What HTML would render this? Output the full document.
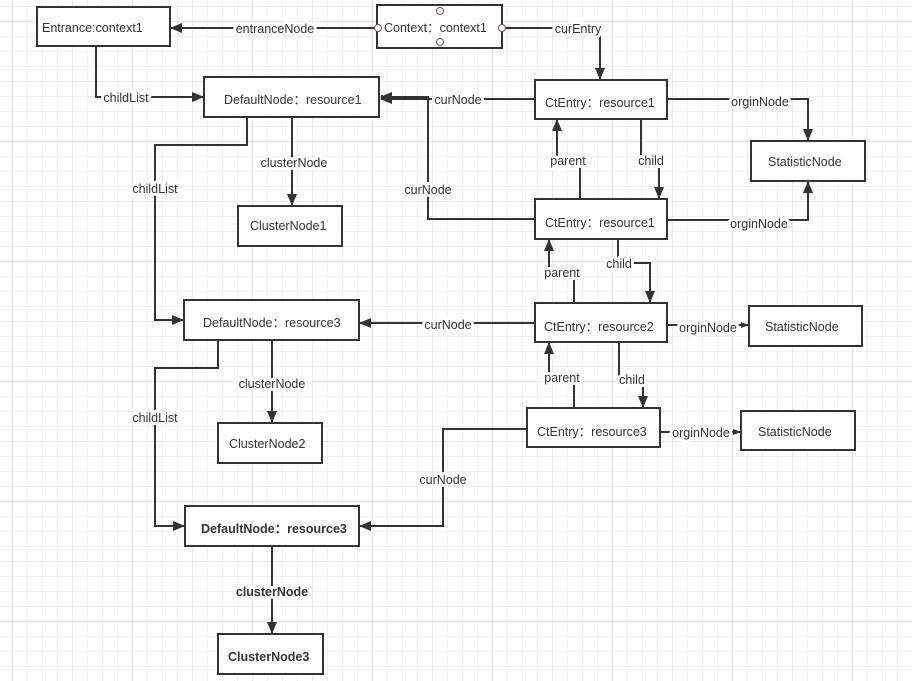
<!DOCTYPE html>
<html><head><meta charset="utf-8"><style>
html,body{margin:0;padding:0;background:#fff;}
svg{display:block;}
text{font-family:"Liberation Sans","Noto Sans CJK SC",sans-serif;font-size:12.5px;fill:#333;}
.l{stroke:#fff;stroke-width:6px;paint-order:stroke;stroke-linejoin:round;}
.b{font-weight:bold;}
</style></head><body>
<svg width="912" height="681" viewBox="0 0 912 681" xmlns="http://www.w3.org/2000/svg">
<defs>
<pattern id="g1" width="15" height="15" patternUnits="userSpaceOnUse" x="12" y="6">
<path d="M0 0H15M0 0V15" stroke="#e6e6e6" stroke-width="1" fill="none"/>
</pattern>
<pattern id="g2" width="60" height="60" patternUnits="userSpaceOnUse" x="12" y="21">
<path d="M0 0H60M0 0V60" stroke="#d6d6d6" stroke-width="1" fill="none"/>
</pattern>
<marker id="a" markerWidth="12" markerHeight="10" refX="11" refY="5" orient="auto" markerUnits="userSpaceOnUse">
<path d="M0 0L12 5L0 10Z" fill="#333"/>
</marker>
<marker id="s" markerWidth="8" markerHeight="6" refX="7" refY="3" orient="auto" markerUnits="userSpaceOnUse">
<path d="M0 0L8 3L0 6Z" fill="#333"/>
</marker>
</defs>
<rect width="912" height="681" fill="url(#g1)"/>
<rect width="912" height="681" fill="url(#g2)"/>

<g fill="none" stroke="#333" stroke-width="2">
<path d="M378 28H171" marker-end="url(#a)"/>
<path d="M502 28H600V79" marker-end="url(#a)"/>
<path d="M96 46V97H203" marker-end="url(#a)"/>
<path d="M535 99H381" marker-end="url(#a)"/>
<path d="M383 97H381" stroke-width="4"/>
<path d="M535 219H428V97H381" marker-end="url(#a)"/>
<path d="M667 99H808V140" marker-end="url(#a)"/>
<path d="M667 220H808V182" marker-end="url(#a)"/>
<path d="M580 199V160H557V120" marker-end="url(#a)"/>
<path d="M641 119V160H659V198" marker-end="url(#a)"/>
<path d="M247 117V145H155V320H183" marker-end="url(#a)"/>
<path d="M292 117V205" marker-end="url(#a)"/>
<path d="M535 323H360" marker-end="url(#a)"/>
<path d="M574 303V272H549V240" marker-end="url(#a)"/>
<path d="M618 239V263H650V302" marker-end="url(#a)"/>
<path d="M574 408V377H549V343" marker-end="url(#a)"/>
<path d="M619 342V379H643V407" marker-end="url(#a)"/>
<path d="M667 325H748" marker-end="url(#s)"/>
<path d="M660 432H740" marker-end="url(#s)"/>
<path d="M218 340V368H155V526H184" marker-end="url(#a)"/>
<path d="M272 340V422" marker-end="url(#a)"/>
<path d="M527 429H443V526H360" marker-end="url(#a)"/>
<path d="M272 546V633" marker-end="url(#a)"/>
</g>

<g fill="#fff" stroke="#333" stroke-width="2">
<rect x="37" y="7" width="133" height="39"/>
<rect x="377" y="5" width="125" height="43"/>
<rect x="204" y="77" width="175" height="40"/>
<rect x="238" y="206" width="104" height="40"/>
<rect x="535" y="80" width="132" height="39"/>
<rect x="751" y="141" width="114" height="40"/>
<rect x="535" y="199" width="132" height="40"/>
<rect x="184" y="300" width="175" height="40"/>
<rect x="218" y="423" width="104" height="40"/>
<rect x="535" y="303" width="132" height="39"/>
<rect x="749" y="306" width="113" height="40"/>
<rect x="527" y="408" width="133" height="39"/>
<rect x="741" y="411" width="114" height="39"/>
<rect x="185" y="506" width="174" height="40"/>
<rect x="218" y="634" width="105" height="40"/>
</g>
<g fill="#fff" stroke="#7a4a4a" stroke-width="1">
<circle cx="440" cy="11" r="3.5"/><circle cx="440" cy="42" r="3.5"/>
<circle cx="378" cy="28" r="3.5"/><circle cx="502" cy="28" r="3.5"/>
</g>

<g>
<text x="42" y="32">Entrance:context1</text>
<text x="384" y="32">Context：context1</text>
<text x="224" y="104">DefaultNode：resource1</text>
<text x="250" y="230">ClusterNode1</text>
<text x="545" y="107">CtEntry：resource1</text>
<text x="768" y="166">StatisticNode</text>
<text x="545" y="227">CtEntry：resource1</text>
<text x="203" y="327">DefaultNode：resource3</text>
<text x="229" y="448">ClusterNode2</text>
<text x="544" y="331">CtEntry：resource2</text>
<text x="765" y="331">StatisticNode</text>
<text x="537" y="436">CtEntry：resource3</text>
<text x="758" y="436">StatisticNode</text>
<text class="b" x="201" y="533">DefaultNode：resource3</text>
<text class="b" x="228" y="661">ClusterNode3</text>
</g>

<g text-anchor="middle">
<text class="l" x="275" y="33">entranceNode</text>
<text class="l" x="578" y="33">curEntry</text>
<text class="l" x="126" y="102">childList</text>
<text class="l" x="458" y="104">curNode</text>
<text class="l" x="428" y="194">curNode</text>
<text class="l" x="760" y="106">orginNode</text>
<text class="l" x="759" y="228">orginNode</text>
<text class="l" x="568" y="165">parent</text>
<text class="l" x="651" y="165">child</text>
<text class="l" x="155" y="193">childList</text>
<text class="l" x="294" y="167">clusterNode</text>
<text class="l" x="448" y="329">curNode</text>
<text class="l" x="562" y="277">parent</text>
<text class="l" x="619" y="268">child</text>
<text class="l" x="562" y="382">parent</text>
<text class="l" x="632" y="384">child</text>
<text class="l" x="708" y="332">orginNode</text>
<text class="l" x="701" y="437">orginNode</text>
<text class="l" x="155" y="422">childList</text>
<text class="l" x="272" y="388">clusterNode</text>
<text class="l" x="443" y="484">curNode</text>
<text class="l b" x="272" y="596">clusterNode</text>
</g>
</svg>
</body></html>
